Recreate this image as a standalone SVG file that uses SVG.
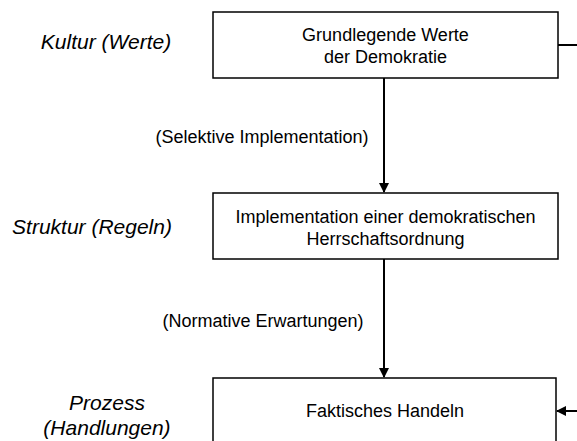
<svg xmlns="http://www.w3.org/2000/svg" width="577" height="441" viewBox="0 0 577 441">
<defs>
<marker id="ah" markerWidth="10" markerHeight="10" refX="9" refY="5" orient="auto" markerUnits="userSpaceOnUse">
<path d="M0,0 L10,5 L0,10 z" fill="#000"/>
</marker>
<style>
.box{fill:#fff;stroke:#000;stroke-width:1.5}
.t{font-family:"Liberation Sans",Arial,sans-serif;font-size:18px;fill:#000;text-anchor:middle}
.it{font-family:"Liberation Sans",Arial,sans-serif;font-size:21px;font-style:italic;fill:#000;text-anchor:middle}
.c{stroke:#000;stroke-width:2;fill:none}
</style>
</defs>
<rect width="577" height="441" fill="#fff"/>
<g id="labels">
<text class="it" x="106" y="49">Kultur (Werte)</text>
<text class="it" x="92" y="234">Struktur (Regeln)</text>
<text class="it" x="107" y="410">Prozess</text>
<text class="it" x="107" y="435">(Handlungen)</text>
</g>
<g id="node-werte">
<rect class="box" x="213" y="12" width="345" height="66"/>
<text class="t" x="385.5" y="41">Grundlegende Werte</text>
<text class="t" x="385.5" y="63">der Demokratie</text>
</g>
<g id="node-struktur">
<rect class="box" x="213" y="193" width="345" height="66"/>
<text class="t" x="385.5" y="223">Implementation einer demokratischen</text>
<text class="t" x="385.5" y="245">Herrschaftsordnung</text>
</g>
<g id="node-handeln">
<rect class="box" x="213" y="378" width="343" height="80"/>
<text class="t" x="385" y="417">Faktisches Handeln</text>
</g>
<g id="connectors">
<line class="c" x1="384" y1="78" x2="384" y2="192" marker-end="url(#ah)"/>
<line class="c" x1="384" y1="259" x2="384" y2="377" marker-end="url(#ah)"/>
<line class="c" x1="558" y1="45" x2="577" y2="45"/>
<line class="c" x1="577" y1="411" x2="557" y2="411" marker-end="url(#ah)"/>
<text class="t" x="262" y="143">(Selektive Implementation)</text>
<text class="t" x="263" y="327">(Normative Erwartungen)</text>
</g>
</svg>
